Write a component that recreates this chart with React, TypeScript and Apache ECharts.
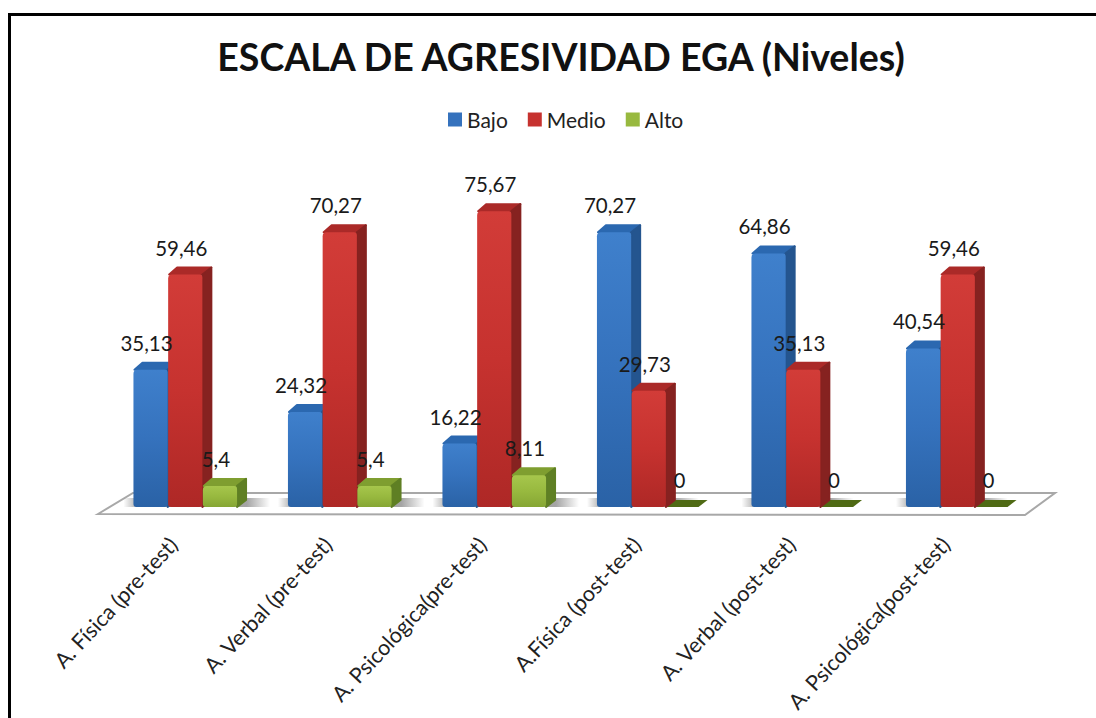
import React, { useEffect, useRef } from "react";
import * as echarts from "echarts";

const categories = [
  "A. Física (pre-test)",
  "A. Verbal (pre-test)",
  "A. Psicológica(pre-test)",
  "A.Física (post-test)",
  "A. Verbal (post-test)",
  "A. Psicológica(post-test)",
];
const bajo = [35.13, 24.32, 16.22, 70.27, 64.86, 40.54];
const medio = [59.46, 70.27, 75.67, 29.73, 35.13, 59.46];
const alto = [5.4, 5.4, 8.11, 0, 0, 0];
const titleText = "ESCALA DE AGRESIVIDAD EGA (Niveles)";

const FONT = "Lato, Carlito, 'Open Sans', sans-serif";
const BAR_W = 34.2;
const DX = 9;
const DY = 7;

type Palette = { light: string; mid: string; dark: string; side: string; top: string; zero: string };
const palettes: Palette[] = [
  { light: "#3f80cc", mid: "#3572bd", dark: "#2a62a6", side: "#24558f", top: "#2b68b0", zero: "#1f4c82" },
  { light: "#d23c38", mid: "#c6322f", dark: "#ae2826", side: "#862220", top: "#ab2a28", zero: "#741c1b" },
  { light: "#a6c64c", mid: "#98b93f", dark: "#86a634", side: "#5f7f24", top: "#7f9e30", zero: "#4f6a14" },
];

const fmt = (v: number) => String(v).replace(".", ",");

function makeRender(seriesIdx: number) {
  const p = palettes[seriesIdx];
  return (_params: any, api: any) => {
    const idx = api.value(0);
    const val = api.value(1);
    const base = api.coord([idx, 0]);
    const topPt = api.coord([idx, val]);
    const x0 = base[0] + (seriesIdx - 1) * (BAR_W + 0.5) - BAR_W / 2 + 1;
    const x1 = x0 + BAR_W;
    const yb = base[1];
    const yt = topPt[1];
    const children: any[] = [];
    if (val > 0) {
      children.push({
        type: "rect",
        shape: { x: x0 - 10, y: yb - 9, width: BAR_W + DX + 34, height: 9 },
        z2: 1,
        style: {
          fill: new echarts.graphic.LinearGradient(0, 0, 1, 0, [
            { offset: 0, color: "rgba(90,90,90,0)" },
            { offset: 0.2, color: "rgba(90,90,90,0.55)" },
            { offset: 0.7, color: "rgba(90,90,90,0.55)" },
            { offset: 1, color: "rgba(90,90,90,0)" },
          ]),
        },
      });
      children.push({
        type: "polygon",
        shape: { points: [[x0 + 1, yt], [x0 + DX, yt - DY], [x1 + DX, yt - DY], [x1, yt]] },
        z2: 3 + seriesIdx * 3,
        style: { fill: p.top, stroke: p.top, lineWidth: 2, lineJoin: "round" },
      });
      children.push({
        type: "polygon",
        shape: { points: [[x1, yt], [x1 + DX, yt - DY], [x1 + DX, yb - DY], [x1, yb]] },
        z2: 3 + seriesIdx * 3,
        style: { fill: p.side, stroke: p.side, lineWidth: 2, lineJoin: "round" },
      });
      children.push({
        type: "rect",
        shape: { x: x0, y: yt, width: BAR_W, height: yb - yt, r: [4, 3, 3, 3] },
        z2: 4 + seriesIdx * 3,
        style: {
          fill: new echarts.graphic.LinearGradient(0, 0, 0, 1, [
            { offset: 0, color: p.light },
            { offset: 0.5, color: p.mid },
            { offset: 1, color: p.dark },
          ]),
        },
      });
    } else {
      children.push({
        type: "polygon",
        shape: { points: [[x0, yb], [x0 + DX, yb - DY], [x1 + DX - 2, yb - DY], [x1 - 2, yb]] },
        z2: 3,
        style: { fill: p.zero },
      });
    }
    children.push({
      type: "text",
      z2: 100,
      style: {
        x: (x0 + x1) / 2 - 4,
        y: yt - 27,
        text: fmt(val),
        fill: "#1a1a1a",
        font: `20.5px ${FONT}`,
        align: "center",
        verticalAlign: "middle",
      },
    });
    return { type: "group", children };
  };
}

const seriesOf = (name: string, values: number[], i: number) => ({
  type: "custom",
  name,
  coordinateSystem: "cartesian2d",
  renderItem: makeRender(i),
  encode: { x: 0, y: 1 },
  itemStyle: { color: palettes[i].mid },
  data: values.map((v, k) => [k, v]),
  clip: false,
});

export default function App() {
  const ref = useRef<HTMLDivElement>(null);
  useEffect(() => {
    const chart = echarts.init(ref.current!, undefined, { renderer: "svg" });
    chart.setOption({
      animation: false,
      backgroundColor: "#ffffff",
      title: {
        text: titleText,
        left: 556,
        top: 32,
        textAlign: "center",
        textStyle: { fontFamily: FONT, fontWeight: "bold", fontSize: 37.5, color: "#111111" },
      },
      legend: {
        top: 104,
        left: 443,
        itemWidth: 14,
        itemHeight: 14,
        itemGap: 20,
        icon: "rect",
        textStyle: { fontFamily: FONT, fontSize: 21, color: "#222222" },
        data: ["Bajo", "Medio", "Alto"],
      },
      grid: { left: 107, right: 62, top: 116, bottom: 211 },
      xAxis: {
        type: "category",
        data: categories,
        axisLine: { show: false },
        axisTick: { show: false },
        axisLabel: {
          rotate: 47,
          interval: 0,
          margin: 22,
          padding: [0, 16, 0, 0],
          fontFamily: FONT,
          fontSize: 21.5,
          color: "#222222",
        },
      },
      yAxis: { type: "value", min: 0, max: 100, show: false, splitLine: { show: false } },
      series: [seriesOf("Bajo", bajo, 0), seriesOf("Medio", medio, 1), seriesOf("Alto", alto, 2)],
      graphic: [
        {
          type: "polyline",
          z: -2,
          shape: { points: [[9.5, 718], [9.5, 14.5], [1096, 14.5]] },
          style: { fill: "none", stroke: "#000000", lineWidth: 3 },
        },
        {
          type: "polygon",
          z: -1,
          shape: { points: [[98, 514], [133, 493], [1055, 493], [1025, 515]] },
          style: { fill: "#ffffff", stroke: "#a8a8a8", lineWidth: 2 },
        },
      ],
    });
    return () => chart.dispose();
  }, []);
  return <div ref={ref} style={{ position: "fixed", left: 0, top: 0, width: 1096, height: 718 }} />;
}
